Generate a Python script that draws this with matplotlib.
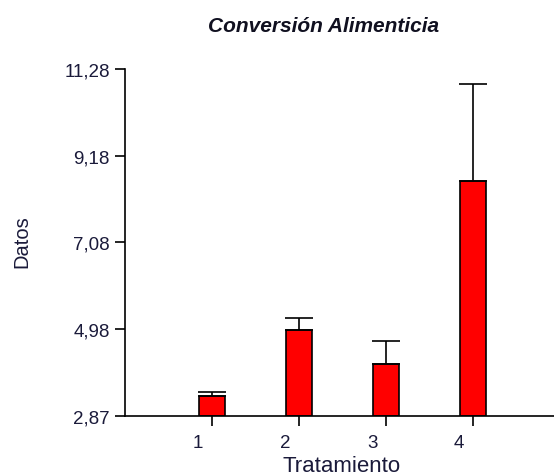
import matplotlib
matplotlib.use("Agg")
import matplotlib.pyplot as plt
from matplotlib.transforms import ScaledTranslation
import numpy as np

plt.rcParams['font.family'] = ['Liberation Sans', 'DejaVu Sans']

categories = ["1", "2", "3", "4"]
means = [3.36, 4.96, 4.14, 8.57]
err_up = [0.08, 0.28, 0.54, 2.35]
yticks = [2.87, 4.98, 7.08, 9.18, 11.28]
ytick_labels = ["2,87", "4,98", "7,08", "9,18", "11,28"]

fig = plt.figure(figsize=(5.54, 4.77), dpi=100)
ax = fig.add_axes([125/554, 60/477, 1 - 125/554, (417-70)/477])

x = np.arange(1, len(categories) + 1)
base = yticks[0]
ax.bar(x, np.array(means) - base, bottom=base, width=0.3, color='#ff0000',
       edgecolor='black', linewidth=1.2, zorder=2)
ax.errorbar(x, means, yerr=[np.zeros(len(means)), err_up], fmt='none',
            ecolor='black', elinewidth=1.2, capsize=10, capthick=1.2, zorder=3)

ax.set_xlim(0, 4.93)
ax.set_ylim(yticks[0], yticks[-1])
ax.set_yticks(yticks)
ax.set_yticklabels(ytick_labels)
ax.set_xticks(x)
ax.set_xticklabels(categories)

for s in ['top', 'right']:
    ax.spines[s].set_visible(False)
for s in ['left', 'bottom']:
    ax.spines[s].set_linewidth(1.2)

ax.tick_params(axis='y', length=7, width=1.2, pad=4, labelsize=13.5, labelcolor='#1a1a3a')
ax.tick_params(axis='x', length=7, width=1.2, pad=6, labelsize=13.5, labelcolor='#1a1a3a')
offset = ScaledTranslation(-0.14, 0, fig.dpi_scale_trans)
for lab in ax.get_xticklabels():
    lab.set_transform(lab.get_transform() + offset)

fig.text(324/554, 1 - 26/477, "Conversión Alimenticia", ha='center', va='center',
         fontsize=15, fontweight='bold', fontstyle='italic', color='#101020')
fig.text(342/554, 1 - 467/477, "Tratamiento", ha='center', va='center',
         fontsize=16, color='#1a1a3a')
fig.text(22/554, 1 - 242/477, "Datos", ha='center', va='center', rotation=90,
         fontsize=14.5, color='#1a1a3a')

fig.savefig("out.png", dpi=100)
